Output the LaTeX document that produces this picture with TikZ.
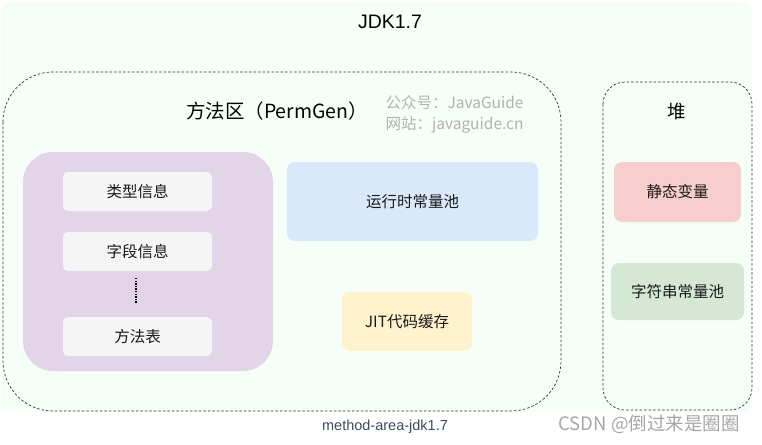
\documentclass[tikz,border=0pt]{standalone}
\usepackage{fontspec}
\setmainfont{Liberation Sans}
\newfontfamily\cjk{Noto Sans CJK SC}
\definecolor{bggreen}{HTML}{F5FFF7}
\definecolor{purplebox}{HTML}{E1D5E7}
\definecolor{greybox}{HTML}{F5F5F5}
\definecolor{bluebox}{HTML}{DAE8FC}
\definecolor{yellowbox}{HTML}{FFF2CC}
\definecolor{redbox}{HTML}{F8CECC}
\definecolor{greenbox}{HTML}{D5E8D4}
\definecolor{captioncol}{HTML}{3C4A5C}
\tikzset{
  areabox/.style={draw=black!80, dashed, dash pattern=on 2.5pt off 2pt, line width=0.7pt, rounded corners=#1},
  fillbox/.style={fill=#1, draw=none, rounded corners=8pt},
  lbl/.style={font=\cjk\fontsize{15.5}{18}\selectfont, text=black!90},
}
\begin{document}
\begin{tikzpicture}[x=1pt,y=-1pt]
\useasboundingbox (0,0) rectangle (762,444);
% background
\fill[bggreen, rounded corners=10pt] (2,2) rectangle (752,412);
\node[font=\fontsize{19.5}{23}\selectfont] (title) at (390,22) {JDK1.7};
% method area
\draw[areabox=50pt] (3,72) rectangle (561,411);
\node[font=\cjk\fontsize{19.5}{22}\selectfont] (ma) at (277,111) {方法区（PermGen）};
\node[font=\cjk\fontsize{15.5}{18}\selectfont, text=black!30, anchor=west] (wm1) at (382,103) {公众号：JavaGuide};
\node[font=\cjk\fontsize{15.5}{18}\selectfont, text=black!30, anchor=west] (wm2) at (382,125) {网站：javaguide.cn};
% class info group
\path[fillbox=purplebox, rounded corners=30pt] (23,152) rectangle (273,371);
\path[fillbox=greybox, rounded corners=5pt] (63,172) rectangle (212,211);
\node[lbl] (type) at (137.5,191.5) {类型信息};
\path[fillbox=greybox, rounded corners=5pt] (63,232) rectangle (212,271);
\node[lbl] (field) at (137.5,251.5) {字段信息};
\path[fillbox=greybox, rounded corners=5pt] (63,317) rectangle (212,356);
\node[lbl] (method) at (137.5,336.5) {方法表};
\coordinate (d1) at (136,278);
\coordinate (d2) at (136,303);
\draw[line width=1.2pt, dash pattern=on 1.3pt off 1.3pt] (d1) -- (d2);
% runtime constant pool
\path[fillbox=bluebox] (287,162) rectangle (538,241);
\node[lbl] (rcp) at (412.5,201.5) {运行时常量池};
% JIT
\path[fillbox=yellowbox] (342,292) rectangle (472,351);
\node[lbl] (jit) at (407,321.5) {JIT代码缓存};
% heap
\draw[areabox=22pt] (603,82) rectangle (752,410);
\node[font=\cjk\fontsize{18.5}{21}\selectfont] (heap) at (677,112) {堆};
\path[fillbox=redbox] (614,162) rectangle (741,222);
\node[lbl] (sv) at (677.5,192) {静态变量};
\path[fillbox=greenbox] (611,263) rectangle (744,320);
\node[lbl] (scp) at (677.5,291.5) {字符串常量池};
% captions
\node[font=\fontsize{14.5}{16}\selectfont, text=captioncol] (cap) at (385,427) {method-area-jdk1.7};
\node[font=\cjk\fontsize{18.5}{20}\selectfont, text=black!35] (csdn) at (649,424) {CSDN @倒过来是圈圈};
\end{tikzpicture}
\end{document}
